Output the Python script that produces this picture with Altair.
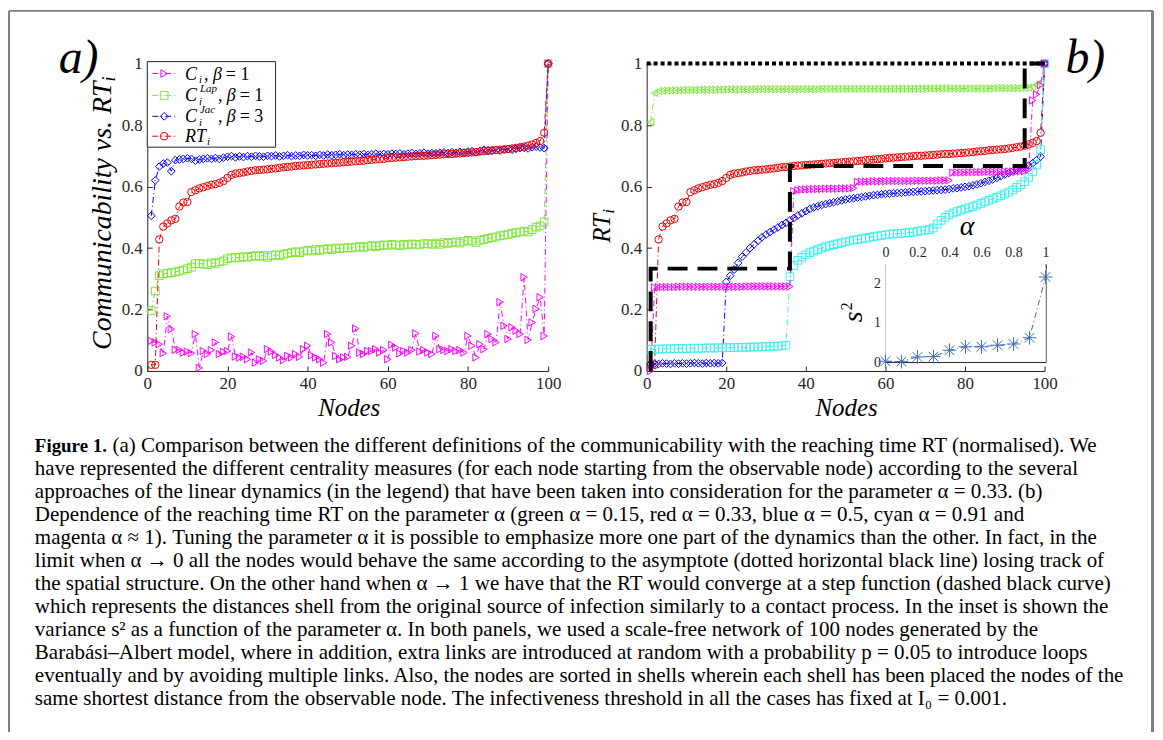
import altair as alt
import pandas as pd

W, H = 1153, 724


def X(p):
    return p - 8


def Y(p):
    return p - 8


# ---------------- data ----------------
nodes = list(range(1, 101))
xticks = [0, 20, 40, 60, 80, 100]
yticks = [0, 0.2, 0.4, 0.6, 0.8, 1]
inset_xticks = [0, 0.2, 0.4, 0.6, 0.8, 1]
inset_yticks = [0, 1, 2]

# panel a
a_ci = [0.098, 0.093, 0.087, 0.058, 0.178, 0.136, 0.069, 0.069, 0.060, 0.063,
        0.058, 0.120, 0.010, 0.065, 0.055, 0.068, 0.093, 0.055, 0.062, 0.065,
        0.112, 0.047, 0.044, 0.046, 0.038, 0.060, 0.027, 0.038, 0.033, 0.071,
        0.063, 0.052, 0.044, 0.035, 0.049, 0.044, 0.055, 0.046, 0.071, 0.082,
        0.051, 0.044, 0.038, 0.027, 0.120, 0.093, 0.049, 0.038, 0.044, 0.046,
        0.082, 0.138, 0.060, 0.055, 0.065, 0.065, 0.071, 0.060, 0.068, 0.038,
        0.085, 0.076, 0.057, 0.065, 0.060, 0.068, 0.122, 0.063, 0.068, 0.060,
        0.055, 0.114, 0.071, 0.068, 0.065, 0.071, 0.065, 0.068, 0.060, 0.114,
        0.082, 0.044, 0.087, 0.071, 0.120, 0.104, 0.093, 0.224, 0.147, 0.104,
        0.142, 0.131, 0.120, 0.305, 0.101, 0.158, 0.202, 0.240, 0.114, 1.000]
a_lap = [0.196, 0.260, 0.310, 0.316, 0.318, 0.320, 0.322, 0.325, 0.328, 0.333,
         0.338, 0.349, 0.350, 0.348, 0.346, 0.352, 0.350, 0.355, 0.358, 0.365,
         0.368, 0.370, 0.368, 0.372, 0.370, 0.373, 0.375, 0.373, 0.376, 0.370,
         0.376, 0.378, 0.375, 0.380, 0.383, 0.385, 0.388, 0.385, 0.390, 0.393,
         0.390, 0.395, 0.392, 0.396, 0.398, 0.395, 0.400, 0.398, 0.400, 0.401,
         0.400, 0.403, 0.405, 0.402, 0.406, 0.408, 0.404, 0.408, 0.410, 0.409,
         0.412, 0.410, 0.408, 0.412, 0.410, 0.413, 0.412, 0.410, 0.414, 0.414,
         0.412, 0.416, 0.412, 0.418, 0.415, 0.418, 0.420, 0.416, 0.422, 0.425,
         0.423, 0.418, 0.425, 0.428, 0.431, 0.434, 0.436, 0.440, 0.442, 0.444,
         0.448, 0.450, 0.452, 0.455, 0.452, 0.460, 0.468, 0.472, 0.485, 1.000]
a_jac = [0.505, 0.620, 0.665, 0.675, 0.678, 0.650, 0.686, 0.688, 0.690, 0.692,
         0.690, 0.684, 0.688, 0.690, 0.692, 0.690, 0.693, 0.690, 0.694, 0.697,
         0.699, 0.695, 0.698, 0.696, 0.699, 0.697, 0.700, 0.698, 0.697, 0.700,
         0.699, 0.701, 0.698, 0.700, 0.702, 0.699, 0.701, 0.700, 0.703, 0.701,
         0.702, 0.700, 0.703, 0.701, 0.704, 0.702, 0.703, 0.705, 0.702, 0.704,
         0.703, 0.705, 0.704, 0.706, 0.703, 0.705, 0.707, 0.704, 0.706, 0.705,
         0.707, 0.706, 0.708, 0.705, 0.707, 0.709, 0.706, 0.708, 0.710, 0.707,
         0.709, 0.708, 0.710, 0.711, 0.709, 0.712, 0.710, 0.713, 0.711, 0.714,
         0.715, 0.713, 0.716, 0.720, 0.718, 0.716, 0.719, 0.717, 0.720, 0.722,
         0.720, 0.723, 0.725, 0.726, 0.724, 0.728, 0.730, 0.727, 0.725, 1.000]
rt = [0.020, 0.020, 0.428, 0.470, 0.480, 0.490, 0.495, 0.535, 0.548, 0.550,
      0.582, 0.588, 0.594, 0.598, 0.602, 0.606, 0.608, 0.612, 0.618, 0.628,
      0.638, 0.642, 0.644, 0.646, 0.649, 0.651, 0.653, 0.654, 0.655, 0.656,
      0.658, 0.659, 0.661, 0.663, 0.664, 0.665, 0.667, 0.668, 0.669, 0.670,
      0.671, 0.672, 0.673, 0.674, 0.675, 0.676, 0.677, 0.678, 0.679, 0.680,
      0.681, 0.682, 0.683, 0.684, 0.686, 0.687, 0.688, 0.689, 0.690, 0.692,
      0.693, 0.694, 0.695, 0.696, 0.697, 0.698, 0.699, 0.700, 0.700, 0.701,
      0.702, 0.703, 0.704, 0.705, 0.706, 0.706, 0.707, 0.708, 0.709, 0.710,
      0.711, 0.712, 0.714, 0.715, 0.716, 0.718, 0.719, 0.720, 0.721, 0.722,
      0.724, 0.726, 0.728, 0.730, 0.733, 0.737, 0.742, 0.748, 0.775, 1.000]

# panel b
b_green = [0.810, 0.905, 0.911, 0.912, 0.912, 0.913, 0.913, 0.913, 0.914, 0.914,
           0.914, 0.914, 0.915, 0.915, 0.915, 0.915, 0.915, 0.915, 0.916, 0.916,
           0.916, 0.916, 0.916, 0.916, 0.916, 0.916, 0.917, 0.917, 0.917, 0.917,
           0.917, 0.917, 0.917, 0.917, 0.917, 0.917, 0.917, 0.917, 0.917, 0.917,
           0.917, 0.917, 0.917, 0.918, 0.918, 0.918, 0.918, 0.918, 0.918, 0.918,
           0.918, 0.918, 0.918, 0.918, 0.918, 0.918, 0.918, 0.918, 0.918, 0.918,
           0.918, 0.918, 0.918, 0.918, 0.918, 0.918, 0.918, 0.918, 0.918, 0.919,
           0.919, 0.919, 0.919, 0.919, 0.919, 0.919, 0.919, 0.919, 0.919, 0.919,
           0.919, 0.919, 0.919, 0.919, 0.919, 0.919, 0.920, 0.920, 0.920, 0.920,
           0.920, 0.920, 0.920, 0.921, 0.921, 0.922, 0.925, 0.930, 0.940, 1.000]
b_blue = [0.022, 0.024, 0.023, 0.025, 0.024, 0.023, 0.025, 0.024, 0.025, 0.024,
          0.025, 0.026, 0.025, 0.024, 0.026, 0.025, 0.026, 0.025, 0.026,
          0.290, 0.310, 0.330, 0.352, 0.372, 0.386, 0.400, 0.412, 0.424, 0.435,
          0.444, 0.452, 0.460, 0.467, 0.475, 0.482, 0.490,
          0.498, 0.506, 0.513, 0.520, 0.527, 0.532, 0.536, 0.540, 0.543, 0.546,
          0.549, 0.552, 0.555, 0.558,
          0.560, 0.562, 0.564, 0.566, 0.568, 0.570, 0.572, 0.573, 0.575, 0.576,
          0.577, 0.578, 0.579, 0.580,
          0.581, 0.582, 0.583, 0.584, 0.584, 0.585, 0.586, 0.587, 0.588, 0.589,
          0.590, 0.592, 0.594, 0.595, 0.597, 0.599, 0.601,
          0.604, 0.607, 0.611, 0.615, 0.619, 0.623, 0.628, 0.634, 0.639, 0.644,
          0.649, 0.654, 0.659, 0.664, 0.668,
          0.676, 0.686, 0.697, 1.000]
b_cyan = [0.070, 0.071, 0.071, 0.072, 0.072, 0.072, 0.073, 0.073, 0.073, 0.073,
          0.074, 0.074, 0.074, 0.074, 0.075, 0.075, 0.075, 0.075, 0.076, 0.076,
          0.076, 0.076, 0.077, 0.077, 0.077, 0.078, 0.078, 0.078, 0.079, 0.079,
          0.080, 0.080, 0.081, 0.082, 0.084,
          0.307, 0.343, 0.360, 0.370, 0.378, 0.385, 0.390, 0.395, 0.400, 0.404,
          0.408, 0.411, 0.414, 0.417, 0.420, 0.423, 0.426, 0.428, 0.430, 0.432,
          0.435, 0.437, 0.439, 0.441, 0.443, 0.445, 0.446, 0.447, 0.448, 0.449,
          0.450, 0.452, 0.454, 0.456, 0.458, 0.460, 0.465,
          0.478, 0.490, 0.500, 0.508, 0.514, 0.519, 0.523, 0.527, 0.531,
          0.535, 0.540, 0.545, 0.550, 0.555, 0.560, 0.565, 0.570, 0.576, 0.582,
          0.589, 0.597, 0.606, 0.616,
          0.630, 0.648, 0.670, 0.720, 1.000]
b_magenta = [0.000,
             0.272, 0.273, 0.273, 0.273, 0.273, 0.273, 0.274, 0.274, 0.274, 0.274,
             0.274, 0.274, 0.274, 0.274, 0.274, 0.274, 0.274, 0.274, 0.274, 0.274,
             0.274, 0.274, 0.274, 0.275, 0.275, 0.275, 0.275, 0.275, 0.275, 0.275,
             0.275, 0.275, 0.275, 0.275, 0.275,
             0.585, 0.588, 0.590, 0.591, 0.591, 0.592, 0.592, 0.592, 0.593, 0.593,
             0.593, 0.593, 0.594, 0.594, 0.594, 0.595,
             0.615, 0.616, 0.616, 0.616, 0.617, 0.617, 0.617, 0.617, 0.618, 0.618,
             0.618, 0.618, 0.618, 0.618, 0.618, 0.619, 0.619, 0.619, 0.619, 0.619,
             0.619, 0.620, 0.620, 0.620,
             0.645, 0.646, 0.646, 0.646, 0.647, 0.647, 0.647, 0.647, 0.648, 0.648,
             0.648, 0.648, 0.648, 0.649, 0.649, 0.649, 0.649, 0.650, 0.650,
             0.655, 0.880, 0.900, 0.930, 1.000]
asym_x = [0, 100]
asym_y = [1, 1]
step_x = [1, 1, 36, 36, 95, 95, 100]
step_y = [0, 0.333, 0.333, 0.667, 0.667, 1, 1]

# inset
alpha = [0, 0.1, 0.2, 0.3, 0.4, 0.5, 0.6, 0.7, 0.8, 0.9, 1.0]
s2 = [0.02, 0.01, 0.13, 0.14, 0.30, 0.39, 0.39, 0.43, 0.46, 0.62, 2.17]

caption_first = "(a) Comparison between the different definitions of the communicability with the reaching time RT (normalised). We"
caption_lines = [
    "have represented the different centrality measures (for each node starting from the observable node) according to the several",
    "approaches of the linear dynamics (in the legend) that have been taken into consideration for the parameter α = 0.33. (b)",
    "Dependence of the reaching time RT on the parameter α (green α = 0.15, red α = 0.33, blue α = 0.5, cyan α = 0.91 and",
    "magenta α ≈ 1). Tuning the parameter α it is possible to emphasize more one part of the dynamics than the other. In fact, in the",
    "limit when α → 0 all the nodes would behave the same according to the asymptote (dotted horizontal black line) losing track of",
    "the spatial structure. On the other hand when α → 1 we have that the RT would converge at a step function (dashed black curve)",
    "which represents the distances shell from the original source of infection similarly to a contact process. In the inset is shown the",
    "variance s² as a function of the parameter α. In both panels, we used a scale-free network of 100 nodes generated by the",
    "Barabási–Albert model, where in addition, extra links are introduced at random with a probability p = 0.05 to introduce loops",
    "eventually and by avoiding multiple links. Also, the nodes are sorted in shells wherein each shell has been placed the nodes of the",
    "same shortest distance from the observable node. The infectiveness threshold in all the cases has fixed at I₀ = 0.001.",
]

# ---------------- styles ----------------
SERIF = "Liberation Serif"
AXC = "#262626"
MAG, GRN, BLU, RED, CYN = "#FF00FF", "#7FE63C", "#0000FF", "#EE0000", "#3FEFEF"
INS = "#3F6EB5"
DASHDOT = [6, 3, 1, 3]
ASTER = "M-1,0L1,0M0,-1L0,1M-0.7,-0.7L0.7,0.7M-0.7,0.7L0.7,-0.7"
FMT = "~r"

AXA = dict(x=(148, 551), y=(371, 62))
AXB = dict(x=(650, 1050), y=(371, 62))
INSET = dict(x=(890, 1051), y=(362, 263.5))


def lin(dom, r):
    return alt.Scale(domain=dom, range=[r[0], r[1]], nice=False, zero=False)


def rx(p):
    return (X(p[0]), X(p[1]))


def ry(p):
    return (Y(p[0]), Y(p[1]))


def series(ax, xv, yv, color, shape, size, dash=DASHDOT, sw=1.0, xdom=(0, 100), ydom=(0, 1), pts=True):
    df = pd.DataFrame({"n": xv, "v": yv, "i": list(range(len(xv)))})
    enc = dict(
        x=alt.X("n:Q", scale=lin(list(xdom), rx(ax["x"])), axis=None),
        y=alt.Y("v:Q", scale=lin(list(ydom), ry(ax["y"])), axis=None),
        order=alt.Order("i:Q"),
    )
    out = [alt.Chart(df).mark_line(color=color, strokeWidth=sw, strokeDash=dash).encode(**enc)]
    if pts:
        out.append(alt.Chart(df).mark_point(shape=shape, color=color, size=size, strokeWidth=1,
                                            filled=False, opacity=1).encode(**enc))
    return out


BASE_AX = dict(grid=False, title=None, labelFlush=False, labelOverlap=False,
               labelFont=SERIF, labelColor=AXC, domainColor=AXC, tickColor=AXC)


def axes_layer(ax, xdom, ydom, xaxis, yaxis):
    df = pd.DataFrame({"x": list(xdom), "y": list(ydom)})
    return alt.Chart(df).mark_point(opacity=0, size=1).encode(
        x=alt.X("x:Q", scale=lin(list(xdom), rx(ax["x"])), axis=xaxis),
        y=alt.Y("y:Q", scale=lin(list(ydom), ry(ax["y"])), axis=yaxis),
    )


def panel_axes(ax, xdom, ydom, xv, yv, fs, pad=5, tick=5):
    x0, y0 = ax["x"][0], ax["y"][0]
    lab = axes_layer(
        ax, xdom, ydom,
        alt.Axis(orient="bottom", offset=Y(y0) - H, values=xv, format=FMT, ticks=False,
                 labelFontSize=fs, labelPadding=pad, domainWidth=1, **BASE_AX),
        alt.Axis(orient="left", offset=-X(x0), values=yv, format=FMT, ticks=False,
                 labelFontSize=fs, labelPadding=pad, domainWidth=1, **BASE_AX),
    )
    tk = axes_layer(
        ax, xdom, ydom,
        alt.Axis(orient="top", offset=-Y(y0), values=xv, labels=False, domain=False,
                 tickSize=tick, tickWidth=1, **BASE_AX),
        alt.Axis(orient="right", offset=X(x0) - W, values=yv, labels=False, domain=False,
                 tickSize=tick, tickWidth=1, **BASE_AX),
    )
    return [lab, tk]


def txt(s, x, y, size, style="normal", weight="normal", align="left", baseline="alphabetic",
        angle=0, color="#000000", font=SERIF):
    kw = dict(align=align, baseline=baseline, fontSize=size, font=font, fontStyle=style,
              fontWeight=weight, color=color)
    if angle:
        kw["angle"] = angle
    return alt.Chart(pd.DataFrame({"t": [s]})).mark_text(**kw).encode(
        x=alt.value(X(x)), y=alt.value(Y(y)), text="t:N")


def rule(x1, y1, x2, y2, color, sw, dash=None):
    kw = dict(color=color, strokeWidth=sw)
    if dash:
        kw["strokeDash"] = dash
    return alt.Chart(pd.DataFrame({"a": [0]})).mark_rule(**kw).encode(
        x=alt.value(X(x1)), y=alt.value(Y(y1)), x2=alt.value(X(x2)), y2=alt.value(Y(y2)))


def marker(x, y, shape, color, size):
    return alt.Chart(pd.DataFrame({"a": [0]})).mark_point(
        shape=shape, color=color, size=size, filled=False, strokeWidth=1, opacity=1).encode(
        x=alt.value(X(x)), y=alt.value(Y(y)))


layers = []

# figure frame
layers += [rule(9, 9, 1159, 9, "#808080", 2), rule(9, 9, 9, 740, "#808080", 2),
           rule(1158.5, 9, 1158.5, 740, "#808080", 3)]

# ---------------- panel a ----------------
layers += panel_axes(AXA, (0, 100), (0, 1), xticks, yticks, 17)
layers += series(AXA, nodes, a_ci, MAG, "triangle-right", 55)
layers += series(AXA, nodes, a_lap, GRN, "square", 60)
layers += series(AXA, nodes, a_jac, BLU, "diamond", 60)
layers += series(AXA, nodes, rt, RED, "circle", 55)

# legend
layers.append(alt.Chart(pd.DataFrame({"a": [0]})).mark_rect(fill="white", stroke=AXC, strokeWidth=1).encode(
    x=alt.value(X(148)), x2=alt.value(X(277)), y=alt.value(Y(60)), y2=alt.value(Y(146))))
leg_rows = [(72, MAG, "triangle-right"), (94, GRN, "square"), (115, BLU, "diamond"), (135, RED, "circle")]
for yy, col, shp in leg_rows:
    layers.append(rule(153, yy, 178, yy, col, 1, DASHDOT))
    layers.append(marker(165, yy, shp, col, 60))
LFS = 18
SFS = 11
layers += [
    txt("C", 186, 78, LFS, "italic"), txt("i", 200, 81, SFS, "italic"),
    txt(", β", 205, 78, LFS, "italic"), txt("= 1", 227, 78, LFS),
    txt("C", 186, 100, LFS, "italic"), txt("Lap", 201, 91, SFS, "italic"), txt("i", 200, 104, SFS, "italic"),
    txt(", β", 219, 100, LFS, "italic"), txt("= 1", 241, 100, LFS),
    txt("C", 186, 121, LFS, "italic"), txt("Jac", 201, 112, SFS, "italic"), txt("i", 200, 125, SFS, "italic"),
    txt(", β", 219, 121, LFS, "italic"), txt("= 3", 241, 121, LFS),
    txt("RT", 186, 141, LFS, "italic"), txt("i", 208, 144, SFS, "italic"),
]

# ---------------- panel b ----------------
layers += panel_axes(AXB, (0, 100), (0, 1), xticks, yticks, 17)
layers += series(AXB, nodes, b_green, GRN, "triangle-left", 55)
layers += series(AXB, nodes, rt, RED, "circle", 55)
layers += series(AXB, nodes, b_blue, BLU, "diamond", 60)
layers += series(AXB, nodes, b_cyan, CYN, "square", 60)
layers += series(AXB, nodes, b_magenta, MAG, "triangle-right", 55)
layers += series(AXB, asym_x, asym_y, "#000000", "circle", 10, dash=[4, 3], sw=4, pts=False)
layers += series(AXB, step_x, step_y, "#000000", "circle", 10, dash=[20, 10], sw=4, pts=False)

# ---------------- inset ----------------
layers.append(alt.Chart(pd.DataFrame({"a": [0]})).mark_rect(fill="white").encode(
    x=alt.value(X(890)), x2=alt.value(X(1051)), y=alt.value(Y(263.5)), y2=alt.value(Y(362))))
ins_lab = axes_layer(
    INSET, (0, 1), (0, 2.5),
    alt.Axis(orient="top", offset=-Y(263.5), values=inset_xticks, format=FMT, ticks=False,
             labelFontSize=14, labelPadding=5, domainWidth=1, **BASE_AX),
    alt.Axis(orient="left", offset=-X(890), values=inset_yticks, format=FMT, ticks=False,
             labelFontSize=14, labelPadding=5, domainWidth=1, **BASE_AX),
)
ins_tk = axes_layer(
    INSET, (0, 1), (0, 2.5),
    alt.Axis(orient="bottom", offset=Y(263.5) - H, values=inset_xticks, labels=False, domain=False,
             tickSize=4, **BASE_AX),
    alt.Axis(orient="right", offset=X(890) - W, values=inset_yticks, labels=False, domain=False,
             tickSize=4, **BASE_AX),
)
ins_box = axes_layer(
    INSET, (0, 1), (0, 2.5),
    alt.Axis(orient="top", offset=-Y(362), values=inset_xticks, labels=False, ticks=False,
             domainWidth=1, **BASE_AX),
    alt.Axis(orient="left", offset=-X(1051), values=inset_yticks, labels=False, ticks=False,
             domainWidth=1, **BASE_AX),
)
layers += [ins_lab, ins_tk, ins_box]
layers += series(INSET, alpha, s2, INS, ASTER, 190, xdom=(0, 1), ydom=(0, 2.5))

# ---------------- titles ----------------
TFS = 25
layers += [
    txt("a)", 59, 71, 48, "italic"),
    txt("b)", 1071, 71, 48, "italic"),
    txt("Nodes", 351, 416, TFS, "italic", align="center"),
    txt("Nodes", 851, 416, TFS, "italic", align="center"),
    txt("Communicability vs. RT", 112, 80, 28, "italic", align="right", angle=270),
    txt("i", 116, 80, 18, "italic", align="left", angle=270),
    txt("RT", 613, 213, TFS, "italic", align="right", angle=270),
    txt("i", 617, 213, 17, "italic", align="left", angle=270),
    txt("α", 972, 234, 28, "italic", align="center"),
    txt("s", 866, 322, 28, "italic", align="left", angle=270),
    txt("2", 856, 310, 16, align="left", angle=270),
]

# ---------------- caption ----------------
CFS = 21.1
layers.append(txt("Figure 1.", 35, 452.5, 19, weight="bold"))
layers.append(txt(caption_first, 113, 452.5, CFS))
cap_df = pd.DataFrame({"k": list(range(1, 12)), "t": caption_lines})
layers.append(alt.Chart(cap_df).mark_text(align="left", baseline="alphabetic", font=SERIF,
                                          fontSize=CFS, color="#000000").encode(
    x=alt.value(X(35)),
    y=alt.Y("k:Q", scale=lin([0, 11], (Y(452.5), Y(706.5))), axis=None),
    text="t:N"))

chart = alt.layer(*layers).resolve_scale(x="independent", y="independent").properties(
    width=W, height=H, autosize=alt.AutoSizeParams(type="none"),
    padding={"left": 0, "top": 0, "right": 0, "bottom": 0},
).configure_view(stroke=None)

chart.save("out.html", embed_options={"renderer": "svg", "actions": False})
